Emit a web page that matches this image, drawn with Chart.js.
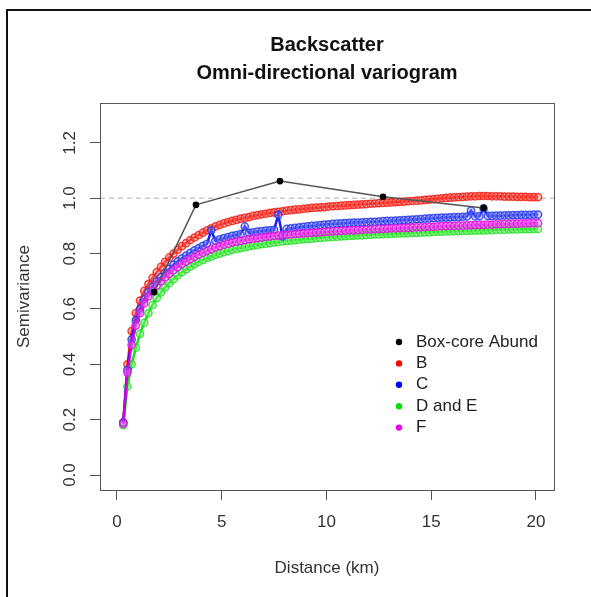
<!DOCTYPE html>
<html lang="en">

<head>
    <meta charset="UTF-8">
    <title>Backscatter variogram</title>
    <style>
        html, body { margin: 0; padding: 0; background: #fff; overflow: hidden; }
        #wrap { position: relative; width: 591px; height: 597px; }
        #frame { position: absolute; left: 6px; top: 9px; width: 600px; height: 600px;
                 border-left: 2px solid #111; border-top: 2px solid #111; pointer-events: none; }
    </style>
</head>

<body>

    <div id="wrap">
        <canvas id="myChart" width="591" height="597"></canvas>
        <div id="frame"></div>
    </div>

    <script src="https://cdn.jsdelivr.net/npm/chart.js"></script>

    <script>
        // lag distances (km), shared by the four backscatter classes
        var distance = [
            0.3, 0.5, 0.7, 0.9, 1.1, 1.3, 1.5, 1.7, 1.9, 2.1,
            2.3, 2.5, 2.7, 2.9, 3.1, 3.3, 3.5, 3.7, 3.9, 4.1,
            4.3, 4.5, 4.7, 4.9, 5.1, 5.3, 5.5, 5.7, 5.9, 6.1,
            6.3, 6.5, 6.7, 6.9, 7.1, 7.3, 7.5, 7.7, 7.9, 8.1,
            8.3, 8.5, 8.7, 8.9, 9.1, 9.3, 9.5, 9.7, 9.9, 10.1,
            10.3, 10.5, 10.7, 10.9, 11.1, 11.3, 11.5, 11.7, 11.9, 12.1,
            12.3, 12.5, 12.7, 12.9, 13.1, 13.3, 13.5, 13.7, 13.9, 14.1,
            14.3, 14.5, 14.7, 14.9, 15.1, 15.3, 15.5, 15.7, 15.9, 16.1,
            16.3, 16.5, 16.7, 16.9, 17.1, 17.3, 17.5, 17.7, 17.9, 18.1,
            18.3, 18.5, 18.7, 18.9, 19.1, 19.3, 19.5, 19.7, 19.9, 20.1
        ];

        var semiB = [
            0.19, 0.40, 0.52, 0.585, 0.63, 0.665, 0.69, 0.712, 0.733, 0.752,
            0.770, 0.786, 0.800, 0.814, 0.827, 0.838, 0.849, 0.858, 0.867, 0.876,
            0.884, 0.891, 0.898, 0.904, 0.909, 0.914, 0.918, 0.922, 0.926, 0.929,
            0.932, 0.936, 0.939, 0.942, 0.944, 0.947, 0.949, 0.951, 0.953, 0.955,
            0.957, 0.959, 0.960, 0.962, 0.963, 0.965, 0.966, 0.967, 0.968, 0.970,
            0.971, 0.972, 0.973, 0.974, 0.975, 0.976, 0.977, 0.978, 0.979, 0.980,
            0.981, 0.982, 0.983, 0.984, 0.985, 0.986, 0.987, 0.988, 0.989, 0.990,
            0.991, 0.992, 0.994, 0.995, 0.997, 0.998, 1.000, 1.001, 1.002, 1.003,
            1.004, 1.005, 1.006, 1.007, 1.007, 1.008, 1.008, 1.008, 1.007, 1.007,
            1.007, 1.006, 1.006, 1.006, 1.005, 1.005, 1.005, 1.004, 1.004, 1.004
        ];

        var semiC = [
            0.19, 0.38, 0.49, 0.56, 0.60, 0.635, 0.66, 0.68, 0.70, 0.715,
            0.730, 0.745, 0.760, 0.772, 0.783, 0.793, 0.803, 0.812, 0.820, 0.828,
            0.835, 0.884, 0.846, 0.851, 0.856, 0.860, 0.864, 0.867, 0.870, 0.898,
            0.875, 0.877, 0.879, 0.881, 0.883, 0.884, 0.886, 0.940, 0.862, 0.889,
            0.891, 0.893, 0.895, 0.897, 0.898, 0.900, 0.901, 0.903, 0.905, 0.906,
            0.907, 0.908, 0.909, 0.910, 0.911, 0.912, 0.912, 0.913, 0.914, 0.915,
            0.915, 0.916, 0.917, 0.918, 0.918, 0.919, 0.920, 0.921, 0.922, 0.923,
            0.924, 0.925, 0.926, 0.927, 0.928, 0.929, 0.930, 0.930, 0.931, 0.932,
            0.932, 0.933, 0.934, 0.955, 0.934, 0.935, 0.963, 0.936, 0.936, 0.937,
            0.937, 0.938, 0.938, 0.939, 0.939, 0.940, 0.940, 0.940, 0.941, 0.941
        ];

        var semiDE = [
            0.18, 0.32, 0.40, 0.46, 0.51, 0.55, 0.585, 0.615, 0.64, 0.66,
            0.678, 0.694, 0.708, 0.721, 0.733, 0.743, 0.753, 0.762, 0.770, 0.777,
            0.784, 0.790, 0.795, 0.800, 0.805, 0.809, 0.813, 0.817, 0.820, 0.823,
            0.826, 0.829, 0.831, 0.834, 0.836, 0.838, 0.840, 0.842, 0.844, 0.846,
            0.847, 0.849, 0.850, 0.852, 0.853, 0.854, 0.856, 0.857, 0.858, 0.859,
            0.860, 0.861, 0.862, 0.863, 0.864, 0.865, 0.866, 0.866, 0.867, 0.868,
            0.869, 0.869, 0.870, 0.871, 0.871, 0.872, 0.873, 0.873, 0.874, 0.875,
            0.875, 0.876, 0.877, 0.877, 0.878, 0.879, 0.879, 0.880, 0.880, 0.881,
            0.881, 0.882, 0.882, 0.883, 0.883, 0.884, 0.884, 0.885, 0.885, 0.886,
            0.886, 0.886, 0.887, 0.887, 0.887, 0.888, 0.888, 0.888, 0.889, 0.889
        ];

        var semiF = [
            0.185, 0.37, 0.47, 0.54, 0.585, 0.62, 0.645, 0.665, 0.685, 0.70,
            0.714, 0.727, 0.740, 0.751, 0.762, 0.771, 0.780, 0.788, 0.796, 0.803,
            0.810, 0.816, 0.822, 0.827, 0.832, 0.836, 0.840, 0.843, 0.846, 0.849,
            0.852, 0.854, 0.856, 0.858, 0.860, 0.862, 0.864, 0.865, 0.867, 0.868,
            0.869, 0.871, 0.872, 0.873, 0.874, 0.875, 0.876, 0.877, 0.878, 0.879,
            0.880, 0.881, 0.882, 0.883, 0.884, 0.884, 0.885, 0.886, 0.887, 0.887,
            0.888, 0.889, 0.889, 0.890, 0.891, 0.891, 0.892, 0.893, 0.893, 0.894,
            0.895, 0.895, 0.896, 0.897, 0.897, 0.898, 0.899, 0.899, 0.900, 0.900,
            0.901, 0.901, 0.902, 0.903, 0.903, 0.904, 0.904, 0.905, 0.905, 0.906,
            0.906, 0.907, 0.907, 0.908, 0.908, 0.909, 0.909, 0.910, 0.910, 0.910
        ];

        // box-core abundance variogram
        var boxDistance = [1.77, 3.77, 7.78, 12.7, 17.5];
        var boxSemi = [0.661, 0.976, 1.062, 1.005, 0.965];

        var legendNames = ["Box-core Abund", "B", "C", "D and E", "F"];
        var legendColors = ["#000000", "#ff0000", "#0000ff", "#00e000", "#ee00ee"];
        var xTicks = [0, 5, 10, 15, 20];
        var yTicks = [0.0, 0.2, 0.4, 0.6, 0.8, 1.0, 1.2];
        var sill = 1.0;

        var fontFam = "'Liberation Sans', Arial, sans-serif";

        function pts(xs, ys) {
            return xs.map(function (x, i) { return { x: x, y: ys[i] }; });
        }

        function series(label, ys, line, point, fill, order) {
            return {
                label: label,
                data: pts(distance, ys),
                borderColor: line,
                borderWidth: 2.5,
                pointRadius: 3.6,
                pointBorderWidth: 1.5,
                pointBorderColor: point,
                pointBackgroundColor: fill,
                tension: 0,
                order: order
            };
        }

        var decorations = {
            id: 'decorations',
            beforeDatasetsDraw: function (chart) {
                var ctx = chart.ctx, a = chart.chartArea, y = chart.scales.y.getPixelForValue(sill);
                ctx.save();
                ctx.strokeStyle = '#c8c8c8';
                ctx.lineWidth = 1.5;
                ctx.setLineDash([5, 4]);
                ctx.beginPath();
                ctx.moveTo(a.left, y);
                ctx.lineTo(a.right, y);
                ctx.stroke();
                ctx.restore();
            },
            afterDraw: function (chart) {
                var ctx = chart.ctx, a = chart.chartArea, ys = chart.scales.y;
                ctx.save();
                // box
                ctx.strokeStyle = '#555';
                ctx.lineWidth = 1;
                ctx.strokeRect(a.left + 0.5, a.top + 0.5, a.right - a.left, a.bottom - a.top);

                // titles
                var cx = (a.left + a.right) / 2;
                ctx.fillStyle = '#111';
                ctx.textAlign = 'center';
                ctx.textBaseline = 'middle';
                ctx.font = 'bold 20px ' + fontFam;
                ctx.fillText('Backscatter', cx, 45);
                ctx.fillText('Omni-directional variogram', cx, 73);

                // axis titles
                ctx.fillStyle = '#333';
                ctx.font = '17px ' + fontFam;
                ctx.fillText('Distance (km)', cx, 568);
                ctx.save();
                ctx.translate(24, (a.top + a.bottom) / 2);
                ctx.rotate(-Math.PI / 2);
                ctx.fillText('Semivariance', 0, 0);
                ctx.restore();

                // rotated y tick labels
                yTicks.forEach(function (v) {
                    ctx.save();
                    ctx.translate(70, ys.getPixelForValue(v));
                    ctx.rotate(-Math.PI / 2);
                    ctx.fillText(v.toFixed(1), 0, 0);
                    ctx.restore();
                });

                // legend
                ctx.textAlign = 'left';
                legendNames.forEach(function (name, i) {
                    var ly = 342 + i * 21.4;
                    ctx.fillStyle = legendColors[i];
                    ctx.beginPath();
                    ctx.arc(399, ly, 3.2, 0, Math.PI * 2);
                    ctx.fill();
                    ctx.fillStyle = '#222';
                    ctx.fillText(name, 416, ly);
                });
                ctx.restore();
            }
        };

        var chrt = document.getElementById("myChart").getContext("2d");
        var chartId = new Chart(chrt, {
            type: 'line',
            data: {
                datasets: [
                    {
                        label: legendNames[0],
                        data: pts(boxDistance, boxSemi),
                        borderColor: '#555',
                        borderWidth: 1.5,
                        pointRadius: 2.6,
                        pointBorderColor: '#000',
                        pointBackgroundColor: '#000',
                        order: 0
                    },
                    series(legendNames[1], semiB, 'rgba(255,0,0,0.9)', 'rgba(240,30,20,0.85)', 'rgba(255,120,110,0.4)', 5),
                    series(legendNames[2], semiC, 'rgba(0,0,255,0.9)', 'rgba(40,60,230,0.85)', 'rgba(140,150,255,0.4)', 2),
                    series(legendNames[3], semiDE, 'rgba(0,220,0,0.9)', 'rgba(30,220,30,0.8)', 'rgba(140,255,140,0.4)', 3),
                    series(legendNames[4], semiF, 'rgba(230,0,230,0.9)', 'rgba(220,20,220,0.85)', 'rgba(245,130,245,0.4)', 1)
                ]
            },
            options: {
                responsive: false,
                animation: false,
                devicePixelRatio: 1,
                layout: { padding: { left: 0, right: 37, top: 103, bottom: 0 } },
                plugins: {
                    legend: { display: false },
                    tooltip: { enabled: false },
                    title: { display: false }
                },
                scales: {
                    x: {
                        type: 'linear',
                        min: -0.81,
                        max: 20.86,
                        afterBuildTicks: function (s) { s.ticks = xTicks.map(function (v) { return { value: v }; }); },
                        afterFit: function (s) { s.height = 107; },
                        ticks: {
                            color: '#333',
                            font: { size: 17, family: fontFam },
                            padding: 12,
                            maxRotation: 0
                        },
                        grid: { drawOnChartArea: false, drawTicks: true, tickLength: 10, color: '#555' },
                        border: { display: false }
                    },
                    y: {
                        min: -0.054,
                        max: 1.344,
                        afterBuildTicks: function (s) { s.ticks = yTicks.map(function (v) { return { value: v }; }); },
                        afterFit: function (s) { s.width = 100; },
                        ticks: { color: 'rgba(0,0,0,0)', font: { size: 17, family: fontFam } },
                        grid: { drawOnChartArea: false, drawTicks: true, tickLength: 10, color: '#555' },
                        border: { display: false }
                    }
                }
            },
            plugins: [decorations]
        });
    </script>
</body>

</html>
